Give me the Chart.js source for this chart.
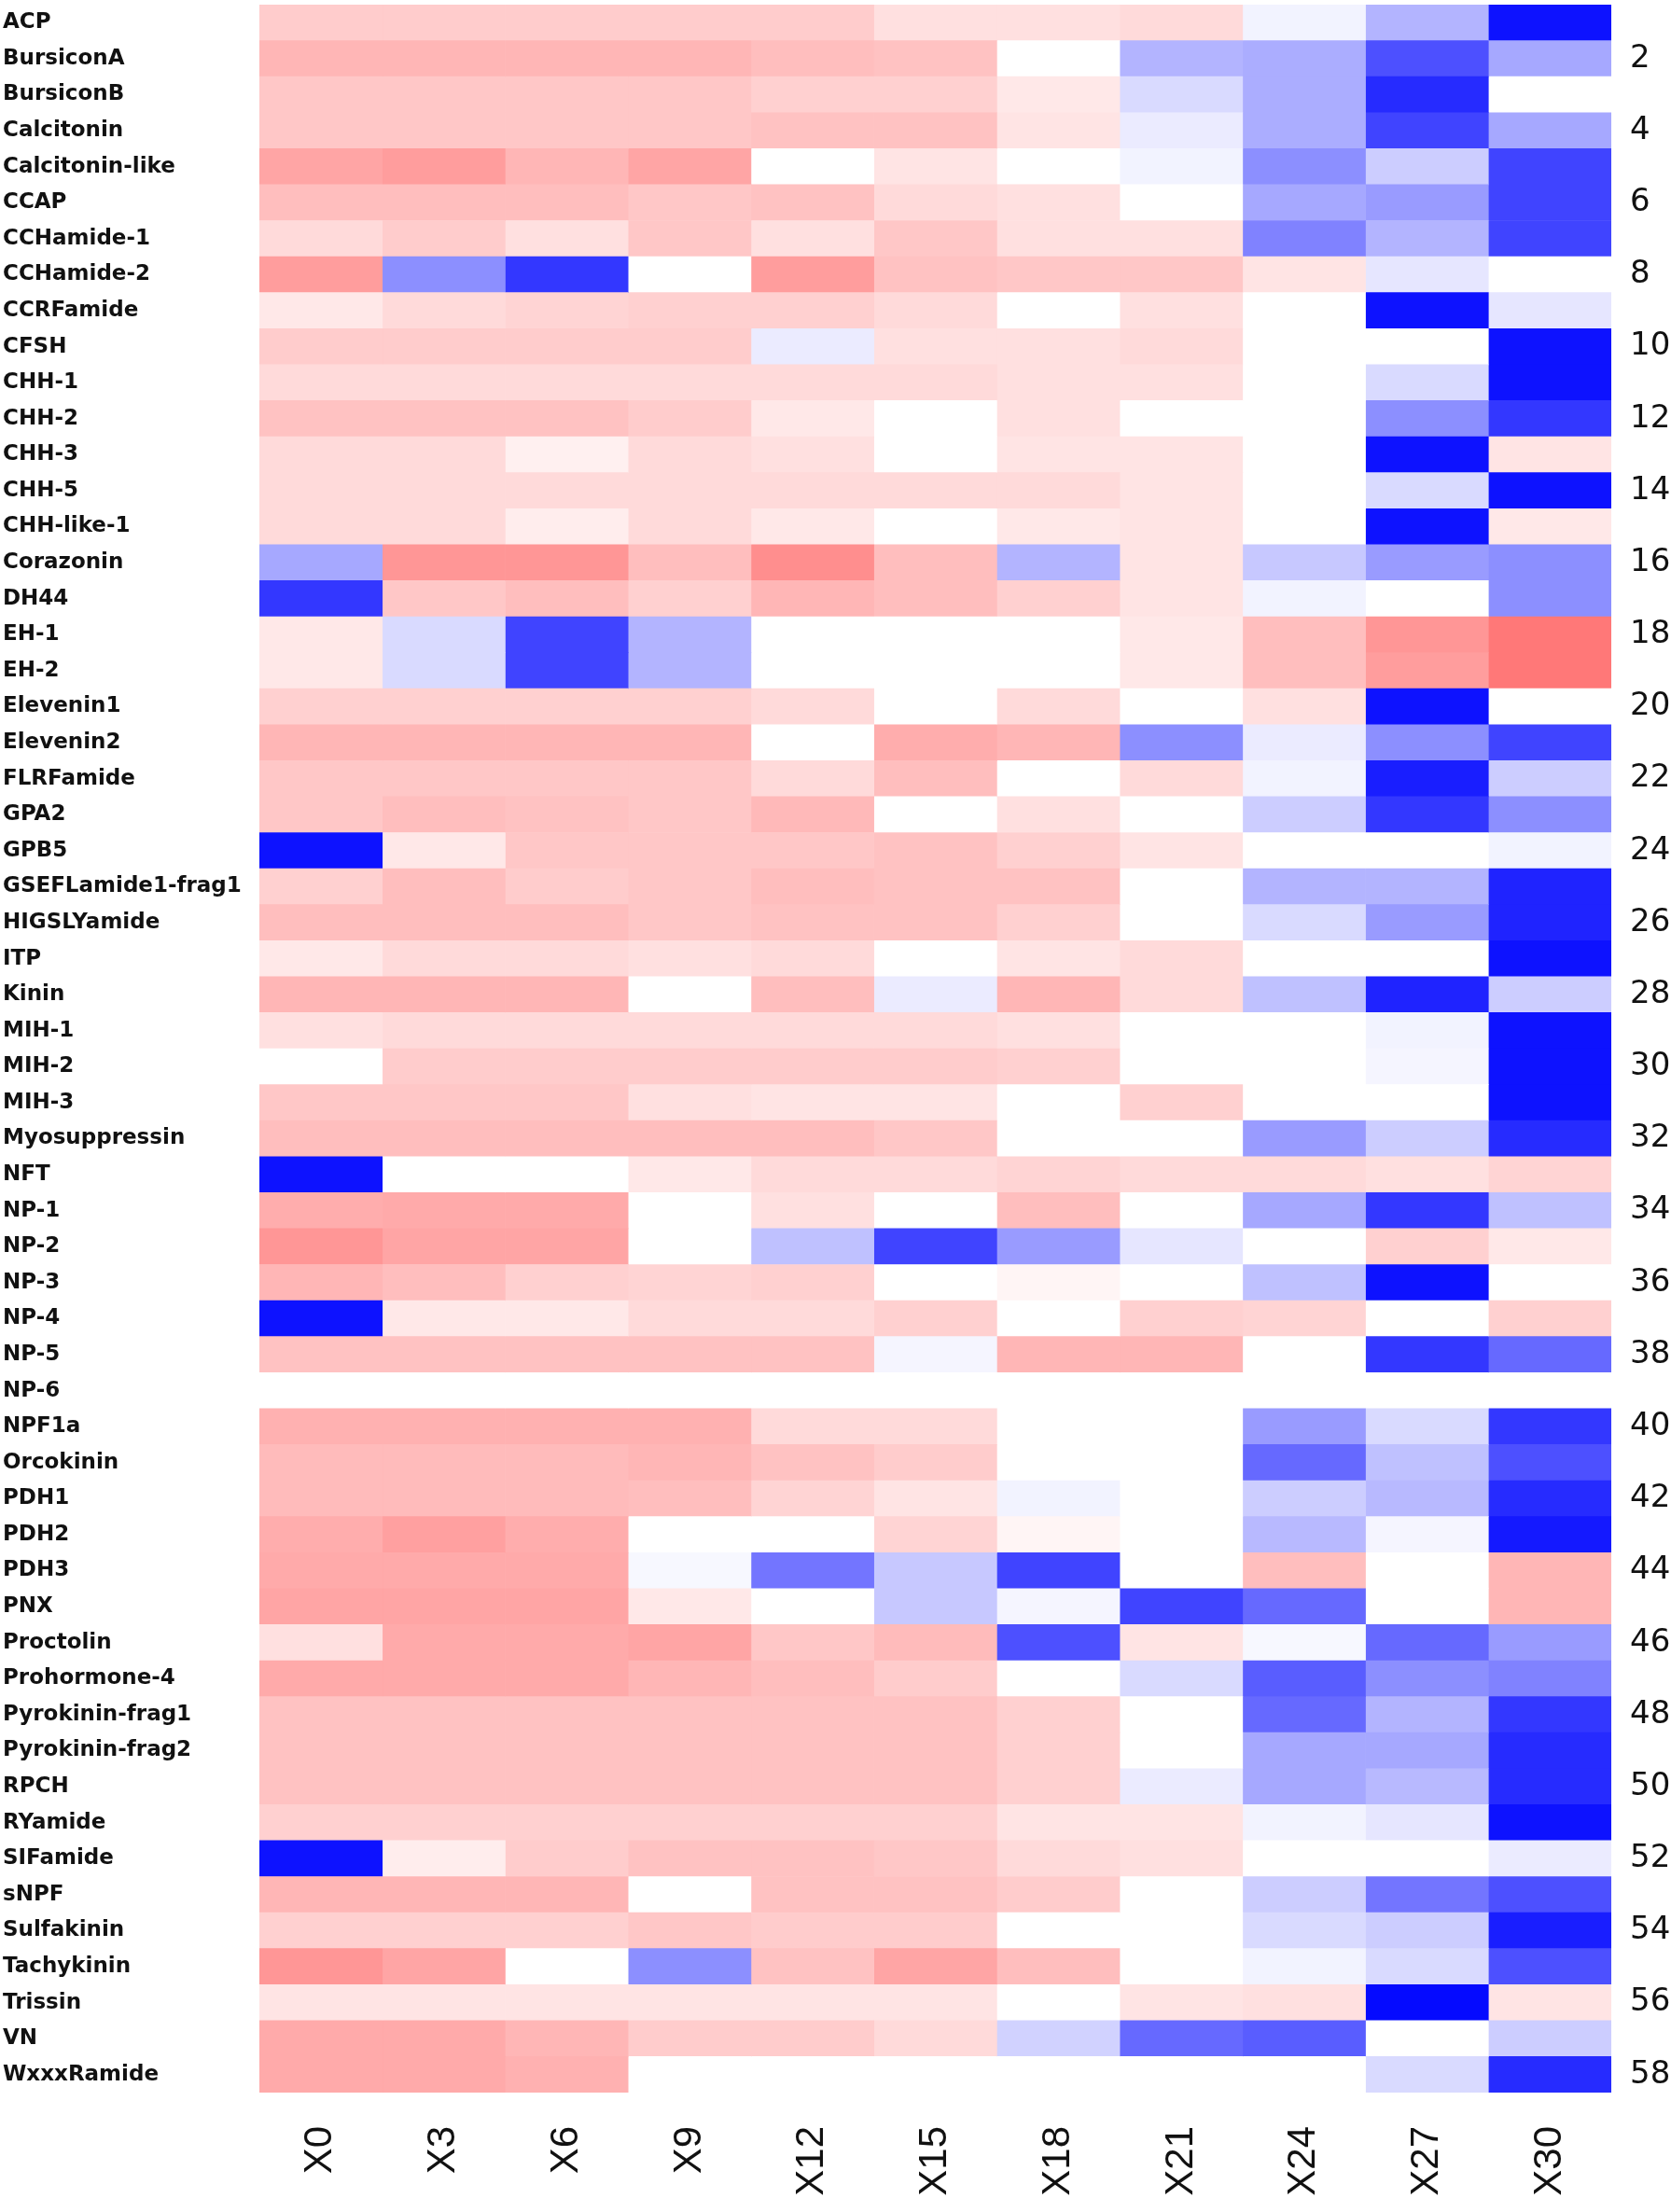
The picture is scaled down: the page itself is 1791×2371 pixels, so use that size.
<!DOCTYPE html>
<html>
<head>
<meta charset="utf-8">
<script src="https://cdn.jsdelivr.net/npm/chart.js@4.4.1/dist/chart.umd.min.js"></script>
<style>
  html, body { margin: 0; padding: 0; background: #fff; }
  #heat { display: block; }
</style>
</head>
<body>
<canvas id="heat" width="1791" height="2371" style="width:1791px;height:2371px"></canvas>
<script>
// peptides (rows, top to bottom)
const peptides = ["ACP", "BursiconA", "BursiconB", "Calcitonin", "Calcitonin-like", "CCAP", "CCHamide-1", "CCHamide-2",
  "CCRFamide", "CFSH", "CHH-1", "CHH-2", "CHH-3", "CHH-5", "CHH-like-1", "Corazonin", "DH44", "EH-1", "EH-2",
  "Elevenin1", "Elevenin2", "FLRFamide", "GPA2", "GPB5", "GSEFLamide1-frag1", "HIGSLYamide", "ITP", "Kinin",
  "MIH-1", "MIH-2", "MIH-3", "Myosuppressin", "NFT", "NP-1", "NP-2", "NP-3", "NP-4", "NP-5", "NP-6", "NPF1a",
  "Orcokinin", "PDH1", "PDH2", "PDH3", "PNX", "Proctolin", "Prohormone-4", "Pyrokinin-frag1", "Pyrokinin-frag2",
  "RPCH", "RYamide", "SIFamide", "sNPF", "Sulfakinin", "Tachykinin", "Trissin", "VN", "WxxxRamide"];

// time points (columns)
const timePoints = ["X0", "X3", "X6", "X9", "X12", "X15", "X18", "X21", "X24", "X27", "X30"];

// row numbers on the right side
const rowNumbers = peptides.map((p, i) => String(i + 1));

// values per column, one per peptide (positive = red, negative = blue)
const x0 = [0.22, 0.35, 0.25, 0.25, 0.45, 0.3, 0.15, 0.5, 0.08, 0.22,
  0.15, 0.28, 0.15, 0.15, 0.15, -0.35, -0.8, 0.08, 0.08, 0.2,
  0.35, 0.25, 0.25, -0.95, 0.2, 0.3, 0.08, 0.35, 0.12, 0,
  0.25, 0.3, -0.95, 0.4, 0.55, 0.35, -0.95, 0.28, 0, 0.38,
  0.32, 0.32, 0.4, 0.42, 0.45, 0.12, 0.42, 0.28, 0.28, 0.28,
  0.2, -0.95, 0.35, 0.2, 0.55, 0.1, 0.42, 0.42];
const x3 = [0.22, 0.35, 0.25, 0.25, 0.5, 0.3, 0.22, -0.45, 0.15, 0.22,
  0.15, 0.28, 0.15, 0.15, 0.15, 0.55, 0.25, -0.15, -0.15, 0.2,
  0.35, 0.25, 0.3, 0.08, 0.3, 0.3, 0.15, 0.35, 0.15, 0.22,
  0.25, 0.3, 0, 0.42, 0.45, 0.3, 0.08, 0.28, 0, 0.38,
  0.32, 0.32, 0.48, 0.42, 0.45, 0.42, 0.42, 0.28, 0.28, 0.28,
  0.2, 0.06, 0.35, 0.2, 0.45, 0.1, 0.42, 0.42];
const x6 = [0.22, 0.35, 0.25, 0.25, 0.35, 0.3, 0.12, -0.8, 0.18, 0.22,
  0.15, 0.28, 0.05, 0.15, 0.06, 0.55, 0.3, -0.75, -0.75, 0.2,
  0.35, 0.25, 0.28, 0.25, 0.22, 0.3, 0.15, 0.35, 0.15, 0.22,
  0.25, 0.3, 0, 0.42, 0.45, 0.2, 0.08, 0.28, 0, 0.38,
  0.32, 0.32, 0.4, 0.42, 0.45, 0.42, 0.42, 0.28, 0.28, 0.28,
  0.2, 0.22, 0.35, 0.2, 0, 0.1, 0.35, 0.38];
const x9 = [0.22, 0.35, 0.25, 0.25, 0.45, 0.25, 0.25, 0, 0.2, 0.22,
  0.15, 0.22, 0.15, 0.15, 0.15, 0.3, 0.2, -0.3, -0.3, 0.2,
  0.35, 0.25, 0.25, 0.25, 0.25, 0.25, 0.12, 0, 0.15, 0.22,
  0.12, 0.3, 0.08, 0, 0, 0.18, 0.15, 0.28, 0, 0.38,
  0.35, 0.3, 0, -0.03, 0.08, 0.45, 0.35, 0.28, 0.28, 0.28,
  0.2, 0.28, 0, 0.25, -0.45, 0.1, 0.22, 0];
const x12 = [0.22, 0.3, 0.2, 0.28, 0, 0.28, 0.12, 0.5, 0.2, -0.08,
  0.15, 0.08, 0.12, 0.15, 0.08, 0.6, 0.35, 0, 0, 0.15,
  0, 0.15, 0.33, 0.25, 0.3, 0.28, 0.15, 0.3, 0.15, 0.22,
  0.1, 0.3, 0.15, 0.12, -0.25, 0.2, 0.15, 0.28, 0, 0.15,
  0.28, 0.18, 0, -0.55, 0, 0.25, 0.3, 0.28, 0.28, 0.28,
  0.2, 0.28, 0.28, 0.22, 0.28, 0.1, 0.22, 0];
const x15 = [0.12, 0.28, 0.2, 0.28, 0.1, 0.15, 0.25, 0.28, 0.15, 0.12,
  0.15, 0, 0, 0.15, 0, 0.3, 0.3, 0, 0, 0,
  0.4, 0.3, 0, 0.28, 0.28, 0.28, 0, -0.08, 0.15, 0.22,
  0.1, 0.25, 0.15, 0, -0.75, 0, 0.2, -0.04, 0, 0.15,
  0.22, 0.1, 0.18, -0.22, -0.22, 0.32, 0.22, 0.28, 0.28, 0.28,
  0.2, 0.25, 0.28, 0.22, 0.45, 0.1, 0.15, 0];
const x18 = [0.12, 0, 0.08, 0.1, 0, 0.12, 0.12, 0.25, 0, 0.12,
  0.12, 0.12, 0.1, 0.15, 0.08, -0.3, 0.2, 0, 0, 0.15,
  0.35, 0, 0.12, 0.2, 0.28, 0.2, 0.1, 0.35, 0.12, 0.2,
  0, 0, 0.18, 0.3, -0.4, 0.03, 0, 0.35, 0, 0,
  0, -0.05, 0.03, -0.75, -0.04, -0.7, 0, 0.2, 0.2, 0.2,
  0.1, 0.15, 0.22, 0, 0.3, 0, -0.18, 0];
const x21 = [0.15, -0.3, -0.15, -0.08, -0.05, 0, 0.12, 0.25, 0.12, 0.15,
  0.12, 0, 0.1, 0.1, 0.1, 0.1, 0.1, 0.08, 0.08, 0,
  -0.45, 0.15, 0, 0.1, 0, 0, 0.15, 0.15, 0, 0,
  0.2, 0, 0.15, 0, -0.1, 0, 0.2, 0.35, 0, 0,
  0, 0, 0, 0, -0.75, 0.1, -0.15, 0, 0, -0.08,
  0.1, 0.12, 0, 0, 0, 0.1, -0.6, 0];
const x24 = [-0.05, -0.33, -0.33, -0.33, -0.45, -0.35, -0.5, 0.1, 0, 0,
  0, 0, 0, 0, 0, -0.22, -0.05, 0.3, 0.3, 0.12,
  -0.08, -0.05, -0.2, 0, -0.3, -0.15, 0, -0.25, 0, 0,
  0, -0.4, 0.15, -0.35, 0, -0.25, 0.18, 0, 0, -0.4,
  -0.6, -0.2, -0.28, 0.3, -0.6, -0.03, -0.65, -0.6, -0.35, -0.35,
  -0.05, 0, -0.2, -0.15, -0.05, 0.12, -0.65, 0];
const x27 = [-0.3, -0.7, -0.85, -0.75, -0.2, -0.4, -0.3, -0.1, -0.95, 0,
  -0.15, -0.45, -0.95, -0.15, -0.95, -0.4, 0, 0.55, 0.5, -0.95,
  -0.45, -0.9, -0.8, 0, -0.3, -0.4, 0, -0.88, -0.05, -0.04,
  0, -0.2, 0.12, -0.8, 0.2, -0.95, 0, -0.8, 0, -0.15,
  -0.25, -0.28, -0.04, 0, 0, -0.6, -0.45, -0.3, -0.35, -0.28,
  -0.1, 0, -0.55, -0.2, -0.15, -0.98, 0, -0.15];
const x30 = [-0.95, -0.35, 0, -0.35, -0.75, -0.75, -0.75, 0, -0.1, -0.95,
  -0.95, -0.8, 0.1, -0.95, 0.08, -0.45, -0.45, 0.75, 0.75, 0,
  -0.75, -0.2, -0.45, -0.05, -0.88, -0.88, -0.95, -0.2, -0.95, -0.95,
  -0.95, -0.85, 0.18, -0.25, 0.08, 0, 0.2, -0.6, 0, -0.8,
  -0.7, -0.85, -0.92, 0.35, 0.35, -0.4, -0.5, -0.8, -0.85, -0.85,
  -0.95, -0.08, -0.7, -0.9, -0.7, 0.1, -0.2, -0.85];

const columns = [x0, x3, x6, x9, x12, x15, x18, x21, x24, x27, x30];

// white -> salmon for positive, white -> pure blue for negative
const cellColor = function (v) {
  let r, g, b;
  if (v >= 0) {
    const drop = 170 * Math.pow(v, 0.8);
    r = 255;
    g = 255 - drop;
    b = 255 - drop;
  } else {
    const t = Math.min(1, -v);
    r = 255 * (1 - t);
    g = 255 * (1 - t) + 5 * t;
    b = 255;
  }
  return "rgb(" + Math.round(r) + "," + Math.round(g) + "," + Math.round(b) + ")";
};

// one floating bar per cell: column c spans [c, c+1] on the hidden x scale
const datasets = columns.map((col, c) => ({
  label: timePoints[c],
  data: col.map(() => [c, c + 1]),
  backgroundColor: col.map(cellColor),
  borderWidth: 0,
  barPercentage: 1,
  categoryPercentage: 1,
  grouped: false,
}));

// drop the half-label overflow chart.js reserves at the ends of each axis
const noEndPadding = function (scale) {
  scale.paddingTop = 0;
  scale.paddingBottom = 0;
  scale.paddingLeft = 0;
  scale.paddingRight = 0;
};

const heatConfig = {
  type: "bar",
  data: { labels: peptides, datasets: datasets },
  options: {
    indexAxis: "y",
    responsive: false,
    animation: false,
    devicePixelRatio: 1,
    layout: { padding: { top: 5, right: 0, left: 3, bottom: 0 } },
    plugins: {
      legend: { display: false },
      tooltip: { enabled: false },
    },
    scales: {
      x: {
        type: "linear",
        min: 0,
        max: 11,
        display: false,
      },
      xLabels: {
        type: "category",
        labels: timePoints,
        position: "bottom",
        offset: true,
        grid: { display: false },
        border: { display: false },
        ticks: {
          minRotation: 90,
          maxRotation: 90,
          autoSkip: false,
          padding: 28,
          color: "#111",
          font: { family: "'Liberation Sans', Arial, sans-serif", size: 42 },
        },
        afterFit: (scale) => { noEndPadding(scale); scale.height = 128; },
      },
      y: {
        type: "category",
        offset: true,
        grid: { display: false },
        border: { display: false },
        ticks: {
          autoSkip: false,
          crossAlign: "far",
          padding: 4,
          color: "#111",
          font: { family: "'DejaVu Sans', sans-serif", size: 23, weight: "bold" },
        },
        afterFit: (scale) => { noEndPadding(scale); scale.width = 275; },
      },
      yNum: {
        type: "category",
        labels: rowNumbers,
        position: "right",
        offset: true,
        grid: { display: false },
        border: { display: false },
        ticks: {
          autoSkip: false,
          padding: 12,
          color: "#111",
          font: { family: "'DejaVu Sans', sans-serif", size: 34 },
          callback: (v, i) => ((i + 1) % 2 === 0 ? rowNumbers[i] : ""),
        },
        afterFit: (scale) => { noEndPadding(scale); scale.width = 64; },
      },
    },
  },
};

const ctx = document.getElementById("heat");
if (ctx) new Chart(ctx, heatConfig);
</script>
</body>
</html>
